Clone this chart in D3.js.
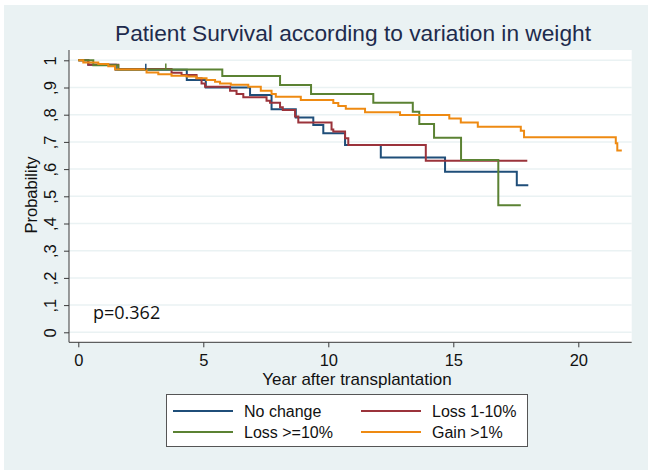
<!DOCTYPE html>
<html><head><meta charset="utf-8">
<script src="https://cdn.jsdelivr.net/npm/d3@7/dist/d3.min.js"></script>
<style>body{margin:0;background:#fff}svg{display:block}</style>
</head><body>
<svg id="c" width="652" height="475"></svg>
<script>
const title = "Patient Survival according to variation in weight";
const xTicks = [0, 5, 10, 15, 20];
const yTicks = [0, 0.1, 0.2, 0.3, 0.4, 0.5, 0.6, 0.7, 0.8, 0.9, 1];
const yTickLabels = ["0", ",1", ",2", ",3", ",4", ",5", ",6", ",7", ",8", ",9", "1"];
const seriesNames = ["No change", "Loss 1-10%", "Loss >=10%", "Gain >1%"];
const seriesColors = ["#1f4e79", "#9b333b", "#5b8233", "#ee8a12"];

const noChangeT = [0, 0.4, 1.5, 4.34, 5.1, 6.87, 7.73, 8.7, 9.4, 9.8, 10.67, 12.1, 14.67, 17.54, 18.0];
const noChangeS = [1, 0.984, 0.965, 0.928, 0.9, 0.872, 0.82, 0.79, 0.762, 0.732, 0.689, 0.643, 0.59, 0.541, 0.541];

const loss1T = [0, 0.4, 1.6, 3.73, 4.13, 4.73, 4.93, 5.07, 6.07, 6.33, 6.6, 7.53, 7.67, 8.07, 8.18, 8.67, 8.8, 10.13, 10.2, 10.67, 10.8, 13.9, 17.96];
const loss1S = [1, 0.984, 0.968, 0.954, 0.946, 0.934, 0.915, 0.903, 0.888, 0.876, 0.864, 0.851, 0.844, 0.827, 0.817, 0.793, 0.771, 0.746, 0.738, 0.713, 0.689, 0.631, 0.631];

const loss10T = [0, 0.6, 1.6, 5.76, 8.07, 9.31, 11.8, 13.38, 13.64, 14.23, 15.31, 16.8, 17.7];
const loss10S = [1, 0.982, 0.966, 0.942, 0.909, 0.876, 0.844, 0.811, 0.766, 0.715, 0.633, 0.467, 0.467];

const gainT = [0, 0.2, 0.8, 1.2, 1.47, 2.73, 3.2, 3.73, 4.33, 4.73, 5.13, 5.47, 5.67, 6.1, 6.8, 7.3, 7.73, 7.9, 8.9, 10.2, 10.4, 10.7, 11.47, 12.87, 14.84, 15.3, 15.98, 17.7, 17.83, 21.5, 21.56, 21.74];
const gainS = [1, 0.992, 0.986, 0.978, 0.966, 0.955, 0.949, 0.943, 0.94, 0.934, 0.928, 0.921, 0.915, 0.91, 0.903, 0.888, 0.876, 0.866, 0.854, 0.843, 0.832, 0.822, 0.809, 0.799, 0.786, 0.771, 0.756, 0.741, 0.717, 0.695, 0.668, 0.668];

const censorSeries = [0, 2];
const censorT = [2.7, 3.5];
const censorS = [0.965, 0.966];

const pText = "p=0.362";
const xTitle = "Year after transplantation";
const yTitle = "Probability";

const series = [[noChangeT, noChangeS], [loss1T, loss1S], [loss10T, loss10S], [gainT, gainS]];

const svg = d3.select("#c");
const bg = "#eaf2f3";
svg.append("rect").attr("x", 4).attr("y", 5).attr("width", 644).attr("height", 465).attr("fill", bg);
const plot = {l: 69, t: 50, r: 631.7, b: 342.3};
svg.append("rect").attr("x", plot.l).attr("y", plot.t).attr("width", plot.r - plot.l).attr("height", plot.b - plot.t).attr("fill", "#fff");

const x = d3.scaleLinear().domain([0, 20]).range([78.3, 578.3]);
const y = d3.scaleLinear().domain([0, 1]).range([332.3, 60.3]);

// grid
svg.append("g").selectAll("line").data(yTicks).join("line")
  .attr("x1", plot.l).attr("x2", plot.r).attr("y1", d => y(d)).attr("y2", d => y(d))
  .attr("stroke", bg).attr("stroke-width", 1.5);

// axes
const yAxis = d3.axisLeft(y).tickValues(yTicks).tickSize(5).tickFormat((d, i) => yTickLabels[i]);
const gy = svg.append("g").attr("transform", `translate(${plot.l},0)`).call(yAxis);
gy.select(".domain").attr("d", `M0,${plot.t}V${plot.b}`).attr("stroke", "#3a3a3a");
gy.selectAll(".tick line").attr("stroke", "#3a3a3a");
gy.selectAll(".tick text").attr("font-family", "Liberation Sans, Arial").attr("font-size", 16.5).attr("fill", "#111")
  .attr("x", null).attr("dy", null).attr("text-anchor", "middle")
  .attr("transform", "translate(-13,0) rotate(-90)");

const xAxis = d3.axisBottom(x).tickValues(xTicks).tickSize(5).tickFormat(d3.format("d"));
const gx = svg.append("g").attr("transform", `translate(0,${plot.b})`).call(xAxis);
gx.select(".domain").attr("d", `M${plot.l},0H${plot.r}`).attr("stroke", "#3a3a3a");
gx.selectAll(".tick line").attr("stroke", "#3a3a3a");
gx.selectAll(".tick text").attr("font-family", "Liberation Sans, Arial").attr("font-size", 16.5).attr("fill", "#111")
  .attr("y", 24).attr("dy", null);

// curves
const line = d3.line().x(d => x(d[0])).y(d => y(d[1])).curve(d3.curveStepAfter);
series.forEach((s, i) => {
  const pts = s[0].map((t, j) => [t, s[1][j]]);
  svg.append("path").datum(pts).attr("d", line).attr("fill", "none")
    .attr("stroke", seriesColors[i]).attr("stroke-width", 2);
});
// censor ticks
svg.append("g").selectAll("line").data(censorT).join("line")
  .attr("x1", d => x(d)).attr("x2", d => x(d))
  .attr("y1", (d, i) => y(censorS[i])).attr("y2", (d, i) => y(censorS[i]) - 6)
  .attr("stroke", (d, i) => seriesColors[censorSeries[i]]).attr("stroke-width", 1.5);

// texts
svg.append("text").attr("x", 353).attr("y", 41).attr("text-anchor", "middle")
  .attr("font-family", "Liberation Sans, Arial").attr("font-size", 21.5).attr("fill", "#1e2b4d")
  .attr("textLength", 476).attr("lengthAdjust", "spacingAndGlyphs").text(title);
svg.append("text").attr("x", 93).attr("y", 319.3)
  .attr("font-family", "Open Sans").attr("font-size", 18).attr("fill", "#111").text(pText);
svg.append("text").attr("x", 357).attr("y", 385).attr("text-anchor", "middle")
  .attr("font-family", "Liberation Sans, Arial").attr("font-size", 17).attr("fill", "#111").text(xTitle);
svg.append("text").attr("transform", "translate(37,195) rotate(-90)").attr("text-anchor", "middle")
  .attr("font-family", "Liberation Sans, Arial").attr("font-size", 16.5).attr("fill", "#111").text(yTitle);

// legend
const lg = svg.append("g");
lg.append("rect").attr("x", 166.5).attr("y", 394.5).attr("width", 361).attr("height", 52)
  .attr("fill", "#fff").attr("stroke", "#555").attr("stroke-width", 1);
const lx = [173, 361], ly = [411, 432];
seriesNames.forEach((n, i) => {
  const cx = lx[i % 2], cy = ly[Math.floor(i / 2)];
  lg.append("line").attr("x1", cx).attr("x2", cx + 60).attr("y1", cy).attr("y2", cy)
    .attr("stroke", seriesColors[i]).attr("stroke-width", 2);
  lg.append("text").attr("x", cx + 71).attr("y", cy + 5.5)
    .attr("font-family", "Liberation Sans, Arial").attr("font-size", 16).attr("fill", "#111").text(n);
});
</script>
</body></html>
